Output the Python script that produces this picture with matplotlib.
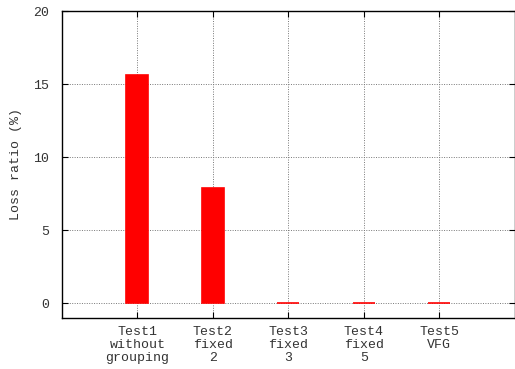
import matplotlib.pyplot as plt

categories = ["Test1\nwithout\ngrouping", "Test2\nfixed\n2", "Test3\nfixed\n3",
              "Test4\nfixed\n5", "Test5\nVFG"]
loss_ratio = [15.6, 7.9, 0.0, 0.0, 0.0]

plt.rcParams['font.family'] = ['Liberation Mono', 'DejaVu Sans Mono']
plt.rcParams['font.size'] = 9.5

fig = plt.figure(figsize=(5.15, 3.69), dpi=100)
ax = fig.add_axes([62 / 515, 51 / 369, 452.5 / 515, 307 / 369])

pos = list(range(len(categories)))
ax.bar(pos, loss_ratio, 0.29, color="#ff0000", edgecolor="#ff0000",
       linewidth=1.2, zorder=3)

ax.set_xlim(-1, 5)
ax.set_ylim(-1, 20)
ax.set_xticks(pos)
ax.set_xticklabels(categories, linespacing=1.1)
ax.set_yticks([0, 5, 10, 15, 20])
ax.set_ylabel("Loss ratio (%)", labelpad=8, color="#333333")

ax.grid(True, color="#777777", linestyle=(0, (1, 1.5)), linewidth=0.7, zorder=0)
ax.tick_params(direction="in", length=4, width=0.8, top=True, right=True,
               colors="black", labelcolor="#333333")
ax.tick_params(axis="x", pad=6)
ax.tick_params(axis="y", pad=9)
for s in ax.spines.values():
    s.set_linewidth(1.0)

fig.savefig("out.png", dpi=100)
